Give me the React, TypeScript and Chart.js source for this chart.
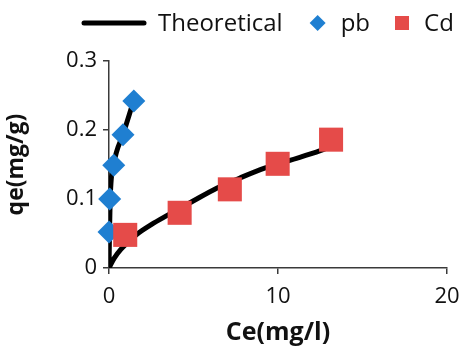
import React, { useEffect, useRef } from 'react';
import { Chart, registerables } from 'chart.js';

Chart.register(...registerables);

// ---- data ----
const pbCe = [0, 0.04, 0.28, 0.83, 1.47];
const pbQe = [0.052, 0.1, 0.149, 0.193, 0.242];
const cdCe = [0.96, 4.18, 7.15, 9.98, 13.14];
const cdQe = [0.048, 0.08, 0.114, 0.151, 0.186];
const pbFitCe = [0, 0.03, 0.07, 0.28, 0.85, 1.4];
const pbFitQe = [0, 0.05, 0.1, 0.15, 0.195, 0.238];
const cdFitCe = [0, 0.3, 0.7, 1.65, 2.5, 3.5, 4.9, 6.4, 7.9, 9.25, 10.7, 12.5, 13.1];
const cdFitQe = [0, 0.014, 0.027, 0.049, 0.063, 0.077, 0.096, 0.116, 0.132, 0.145, 0.156, 0.17, 0.176];
const xTicks = [0, 10, 20];
const yTicks = [0, 0.1, 0.2, 0.3];
const seriesLabels = ['Theoretical', 'pb', 'Cd'];
const xTitle = 'Ce(mg/l)';
const yTitle = 'qe(mg/g)';

const FONT = "'Open Sans', sans-serif";
const TEXT = '#111111';
const AXIS = '#3a3a3a';
const BLUE = '#1f7fd1';
const RED = '#e54b49';

const pts = (xs: number[], ys: number[]) => xs.map((x, i) => ({ x, y: ys[i] }));

const legendPlugin = {
  id: 'customLegend',
  afterDraw(chart: any) {
    const ctx = chart.ctx as CanvasRenderingContext2D;
    ctx.save();
    ctx.font = `24px ${FONT}`;
    ctx.textBaseline = 'middle';
    ctx.fillStyle = TEXT;
    const y = 23;
    let x = 82;
    // line sample
    ctx.strokeStyle = '#000';
    ctx.lineWidth = 5;
    ctx.lineCap = 'round';
    ctx.beginPath();
    ctx.moveTo(x + 2, y);
    ctx.lineTo(x + 62, y);
    ctx.stroke();
    x += 76;
    ctx.fillText(seriesLabels[0], x, y + 1);
    x += ctx.measureText(seriesLabels[0]).width + 35;
    // diamond
    ctx.fillStyle = BLUE;
    ctx.beginPath();
    ctx.moveTo(x - 8, y);
    ctx.lineTo(x, y - 8);
    ctx.lineTo(x + 8, y);
    ctx.lineTo(x, y + 8);
    ctx.closePath();
    ctx.fill();
    x += 23;
    ctx.fillStyle = TEXT;
    ctx.fillText(seriesLabels[1], x, y + 1);
    x += ctx.measureText(seriesLabels[1]).width + 32;
    ctx.fillStyle = RED;
    ctx.fillRect(x - 7, y - 7, 14, 14);
    x += 22;
    ctx.fillStyle = TEXT;
    ctx.fillText(seriesLabels[2], x, y + 1);
    ctx.restore();
  },
};

export default function App() {
  const ref = useRef<HTMLCanvasElement | null>(null);

  useEffect(() => {
    if (!ref.current) return;
    const theo = [
      ...pts(pbFitCe, pbFitQe),
      { x: pbFitCe[pbFitCe.length - 1], y: null as any },
      ...pts(cdFitCe, cdFitQe),
    ];
    const chart = new Chart(ref.current, {
      type: 'scatter',
      data: {
        datasets: [
          {
            label: seriesLabels[0],
            type: 'line',
            data: theo,
            borderColor: '#000',
            borderWidth: 5,
            pointRadius: 0,
            showLine: true,
            spanGaps: false,
            cubicInterpolationMode: 'monotone',
            order: 3,
          } as any,
          {
            label: seriesLabels[1],
            data: pts(pbCe, pbQe),
            pointStyle: 'rectRot',
            pointRadius: 11.5,
            backgroundColor: BLUE,
            borderColor: BLUE,
            borderWidth: 0,
            order: 2,
            clip: false,
          } as any,
          {
            label: seriesLabels[2],
            data: pts(cdCe, cdQe),
            pointStyle: 'rect',
            pointRadius: 17,
            backgroundColor: RED,
            borderColor: RED,
            borderWidth: 0,
            order: 1,
            clip: false,
          } as any,
        ],
      },
      options: {
        responsive: false,
        animation: false,
        devicePixelRatio: 1,
        layout: { padding: { left: 0, top: 61, right: 16, bottom: 0 } },
        plugins: {
          legend: { display: false },
          tooltip: { enabled: false },
        },
        scales: {
          x: {
            type: 'linear',
            min: 0,
            max: 20,
            afterBuildTicks: (s: any) => {
              s.ticks = xTicks.map((v) => ({ value: v }));
            },
            afterFit: (s: any) => {
              s.height = 81;
              s.paddingLeft = 0;
              s.paddingRight = 0;
            },
            ticks: {
              font: { family: FONT, size: 22 },
              color: TEXT,
              padding: 10,
              maxRotation: 0,
              minRotation: 0,
              autoSkip: false,
              callback: (v: any) => String(v),
            },
            grid: {
              display: true,
              drawOnChartArea: false,
              drawTicks: true,
              tickLength: 6,
              color: AXIS,
              lineWidth: 1.5,
            },
            border: { display: true, color: AXIS, width: 1.5 },
            title: {
              display: true,
              text: xTitle,
              font: { family: FONT, size: 25, weight: 'bold' },
              color: TEXT,
              padding: { top: 0, bottom: 1 },
            },
          },
          y: {
            type: 'linear',
            min: 0,
            max: 0.3,
            afterBuildTicks: (s: any) => {
              s.ticks = yTicks.map((v) => ({ value: v }));
            },
            afterFit: (s: any) => {
              s.width = 109;
              s.paddingTop = 0;
              s.paddingBottom = 0;
            },
            ticks: {
              font: { family: FONT, size: 22 },
              color: TEXT,
              padding: 6,
              autoSkip: false,
              callback: (v: any) => String(v),
            },
            grid: {
              display: true,
              drawOnChartArea: false,
              drawTicks: true,
              tickLength: 6,
              color: AXIS,
              lineWidth: 1.5,
            },
            border: { display: true, color: AXIS, width: 1.5 },
            title: {
              display: true,
              text: yTitle,
              font: { family: FONT, size: 23, weight: 'bold' },
              color: TEXT,
              padding: { top: 3, bottom: 0 },
            },
          },
        },
      },
      plugins: [legendPlugin],
    });
    return () => chart.destroy();
  }, []);

  return (
    <div style={{ position: 'absolute', left: 0, top: 0, width: 464, height: 349, background: '#fff' }}>
      <canvas ref={ref} width={464} height={349} style={{ width: 464, height: 349, display: 'block' }} />
    </div>
  );
}
